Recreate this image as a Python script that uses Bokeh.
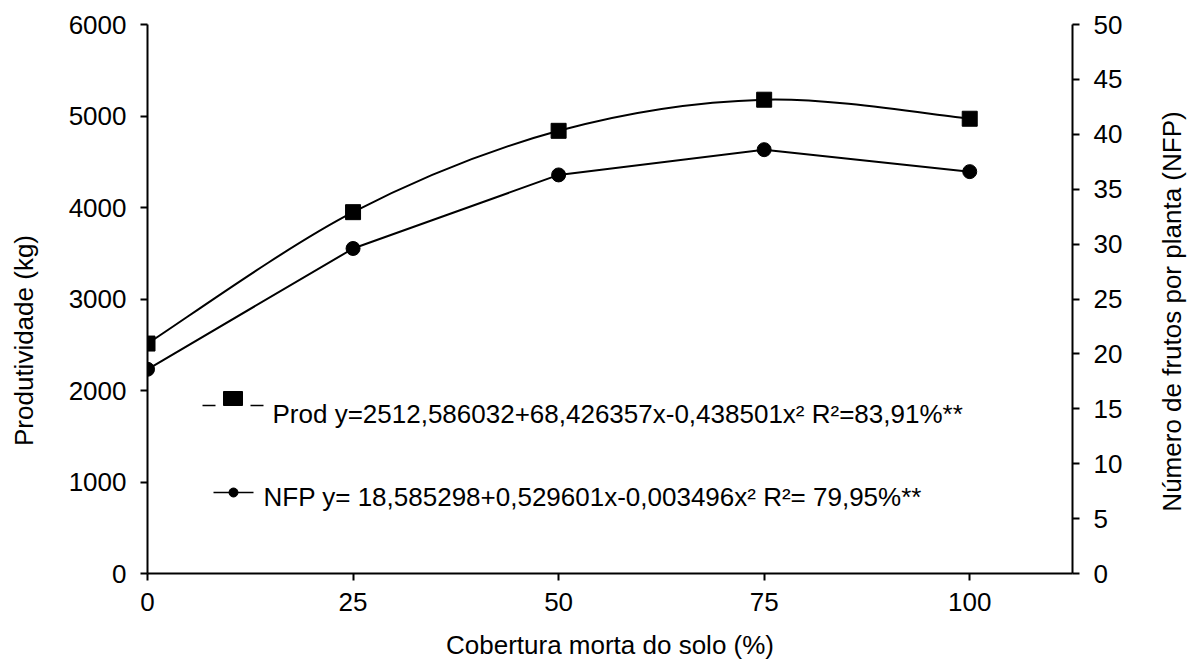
import math
from bokeh.plotting import figure
from bokeh.layouts import row
from bokeh.models import Range1d, LinearAxis, FixedTicker
from bokeh.embed import file_html
from bokeh.resources import INLINE
from bokeh.core.properties import value

# ---------------- data ----------------
cobertura = [0, 25, 50, 75, 100]
prod = [2513, 3949, 4838, 5178, 4970]
nfp = [18.6, 29.6, 36.3, 38.6, 36.6]

x_ticks = [0, 25, 50, 75, 100]
prod_ticks = [0, 1000, 2000, 3000, 4000, 5000, 6000]
nfp_ticks = [0, 5, 10, 15, 20, 25, 30, 35, 40, 45, 50]

x_title = "Cobertura morta do solo (%)"
prod_title = "Produtividade (kg)"
nfp_title = "Número de frutos por planta (NFP)"
prod_legend = "Prod y=2512,586032+68,426357x-0,438501x² R²=83,91%**"
nfp_legend = "NFP y= 18,585298+0,529601x-0,003496x² R²= 79,95%**"

# ---------------- layout (canvas pixels) ----------------
W, H = 1190, 662
SIDE = 40              # width of the strips holding the rotated y titles
L, R, T, B = 147, 1072, 24, 573   # plot frame in canvas pixels
X0, X1 = 0, 112.5
Y0, Y1 = 0, 6000
N0, N1 = 0, 50
FONT = "Liberation Sans"
FS = "26px"


def dx(px):
    return X0 + (px - L) / (R - L) * (X1 - X0)


def dy(py):
    return Y0 + (B - py) / (B - T) * (Y1 - Y0)


MW = W - 2 * SIDE
p = figure(width=MW, height=H, x_range=Range1d(X0, X1), y_range=Range1d(Y0, Y1),
           output_backend="svg", toolbar_location=None,
           min_border_left=L - SIDE, min_border_right=(W - SIDE) - R,
           min_border_top=T, min_border_bottom=H - B)
p.extra_y_ranges = {"nfp": Range1d(N0, N1)}
p.outline_line_color = None
p.xgrid.visible = False
p.ygrid.visible = False
p.background_fill_color = "white"
p.border_fill_color = "white"

right_axis = LinearAxis(y_range_name="nfp")
p.add_layout(right_axis, "right")

for ax, ticks in ((p.xaxis[0], x_ticks), (p.yaxis[0], prod_ticks), (right_axis, nfp_ticks)):
    ax.ticker = FixedTicker(ticks=ticks)
    ax.axis_line_color = "black"
    ax.axis_line_width = 2
    ax.major_tick_line_color = "black"
    ax.major_tick_line_width = 2
    ax.major_tick_out = 7
    ax.major_tick_in = 0
    ax.minor_tick_line_color = None
    ax.major_label_text_font = FONT
    ax.major_label_text_font_size = FS
    ax.major_label_text_color = "black"
    ax.major_label_standoff = 12

p.yaxis[0].major_label_standoff = 14
right_axis.major_label_standoff = 14

xa = p.xaxis[0]
xa.axis_label = x_title
xa.axis_label_text_font = FONT
xa.axis_label_text_font_size = FS
xa.axis_label_text_font_style = "normal"
xa.axis_label_text_color = "black"
xa.major_label_text_line_height = 1.0
xa.axis_label_text_line_height = 1.0
xa.axis_label_standoff = 16


def smooth(xs, ys):
    n = len(xs)
    out = {k: [] for k in ("x0", "y0", "x1", "y1", "cx0", "cy0", "cx1", "cy1")}
    for i in range(n - 1):
        a = i - 1 if i > 0 else i
        d = i + 2 if i + 2 < n else i + 1
        out["x0"].append(xs[i]); out["y0"].append(ys[i])
        out["x1"].append(xs[i + 1]); out["y1"].append(ys[i + 1])
        out["cx0"].append(xs[i] + (xs[i + 1] - xs[a]) / 6)
        out["cy0"].append(ys[i] + (ys[i + 1] - ys[a]) / 6)
        out["cx1"].append(xs[i + 1] - (xs[d] - xs[i]) / 6)
        out["cy1"].append(ys[i + 1] - (ys[d] - ys[i]) / 6)
    return out


sp = smooth(cobertura, prod)
p.bezier(x0=sp["x0"], y0=sp["y0"], x1=sp["x1"], y1=sp["y1"],
         cx0=sp["cx0"], cy0=sp["cy0"], cx1=sp["cx1"], cy1=sp["cy1"],
         line_color="black", line_width=2)
p.line(cobertura, nfp, line_color="black", line_width=2, y_range_name="nfp")

p.scatter(cobertura, prod, marker="square", size=15, fill_color="black", line_color="black")
p.scatter(cobertura, nfp, marker="circle", size=14, fill_color="black", line_color="black",
          y_range_name="nfp")

# ---------------- legend (drawn by hand) ----------------
p.segment(x0=[dx(202), dx(250)], y0=[dy(405), dy(405)], x1=[dx(215), dx(263)], y1=[dy(405), dy(405)],
          line_color="black", line_width=1.5)
p.rect(x=[dx(232.5)], y=[dy(398)], width=19, height=14, width_units="screen", height_units="screen",
       fill_color="black", line_color="black")
p.text(x=[dx(272)], y=[dy(413)], text=[prod_legend], text_font=value(FONT), text_font_size=FS,
       text_color="black", text_baseline="alphabetic", text_align="left")

p.segment(x0=[dx(213)], y0=[dy(492)], x1=[dx(253)], y1=[dy(492)], line_color="black", line_width=1.5)
p.scatter(x=[dx(233)], y=[dy(492)], marker="circle", size=9, fill_color="black", line_color="black")
p.text(x=[dx(263)], y=[dy(496)], text=[nfp_legend], text_font=value(FONT), text_font_size=FS,
       text_color="black", text_baseline="alphabetic", text_align="left")


# ---------------- side strips with the rotated y titles ----------------
# in a row Bokeh aligns the strips' frames with the main frame (rows T..B),
# so their y range is expressed in canvas rows T..B
def strip(w, h):
    f = figure(width=w, height=h, x_range=Range1d(0, w), y_range=Range1d(B, T),
               output_backend="svg", toolbar_location=None, x_axis_type=None, y_axis_type=None,
               min_border=0, min_border_left=0, min_border_right=0,
               min_border_top=0, min_border_bottom=0)
    f.outline_line_color = None
    f.background_fill_color = "white"
    f.border_fill_color = "white"
    return f


left_strip = strip(SIDE, H)
left_strip.text(x=[23], y=[340], text=[prod_title], angle=math.pi / 2,
                text_font=value(FONT), text_font_size=FS, text_color="black",
                text_align="center", text_baseline="middle")

right_strip = strip(SIDE, H)
right_strip.text(x=[1171 - (W - SIDE)], y=[311], text=[nfp_title], angle=math.pi / 2,
                 text_font=value(FONT), text_font_size=FS, text_color="black",
                 text_align="center", text_baseline="middle")

layout = row(left_strip, p, right_strip, spacing=0)

open("out.html", "w").write(file_html(layout, INLINE))
